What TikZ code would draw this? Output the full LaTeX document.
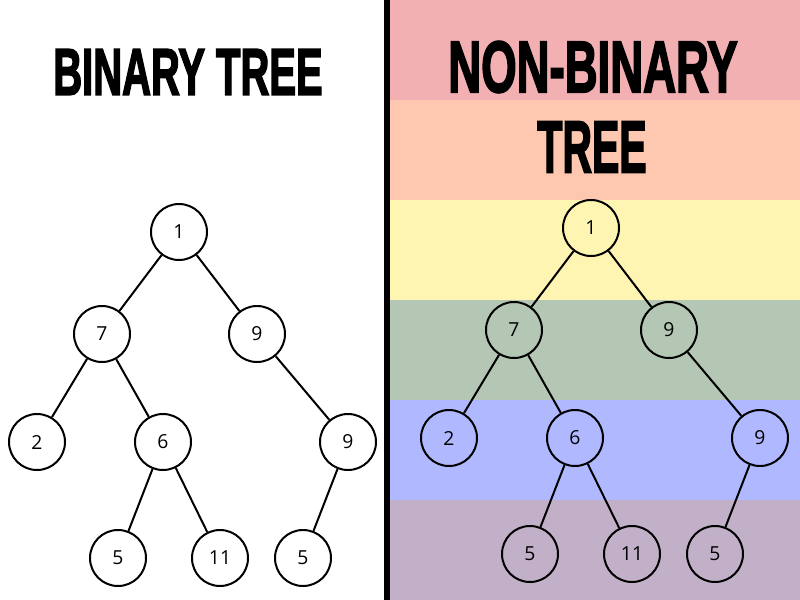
\documentclass[tikz,border=0pt]{standalone}
\usepackage{fontspec}
\usepackage{graphicx}
\newfontfamily\treefont{Open Sans}
\newfontfamily\titlefont[FakeBold=3]{Liberation Sans Bold}
\definecolor{bandA}{RGB}{242,176,179}
\definecolor{bandB}{RGB}{253,200,175}
\definecolor{bandC}{RGB}{255,245,178}
\definecolor{bandD}{RGB}{180,198,180}
\definecolor{bandE}{RGB}{176,184,255}
\definecolor{bandF}{RGB}{194,176,200}
\usetikzlibrary{positioning}

\begin{document}
\begin{tikzpicture}[x=0.75pt, y=-0.75pt]
	\tikzset{treenode/.style={circle, draw=black, line width=1.5pt, minimum size=42pt, inner sep=0pt, font=\treefont\fontsize{14.5}{17}\selectfont}}
	\tikzset{treeedge/.style={draw=black, line width=1.5pt}}
	\tikzset{title/.style={inner sep=0pt, font=\titlefont}}
		\useasboundingbox (0,0) rectangle (800,600);
		\fill[white] (0,0) rectangle (800,600);
		% stripes
		\foreach \col/\y in {bandA/0, bandB/100, bandC/200, bandD/300, bandE/400, bandF/500} {\fill[\col] (390,\y) rectangle (800,\y+100);}
		\fill[black] (384,0) rectangle (390,600);
		% titles
		\node[title] (titleL) at (188,72) {\resizebox{202pt}{34pt}{BINARY TREE}};
		\node[title] (titleR) at (593,67) {\resizebox{217pt}{38pt}{NON-BINARY}};
		\node[title] (titleRb) at (592,147) {\resizebox{82pt}{38pt}{TREE}};
		% trees
		\foreach \side/\dx/\dy/\fillcol in {L/0/0/white, R/412/-4/none}
		{
		\begin{scope}[shift={(\dx,\dy)}]
		\foreach \name/\x/\y/\tag in {a/179/232/1, b/102/334/7, c/257/334/9, d/37/442/2, e/163/442/6, f/348/442/9, g/118/558/5, h/220/558/11, i/303/558/5}
		{\node[treenode, fill=\fillcol] (\side\name) at (\x,\y) {\tag};}
		\end{scope}
		\foreach \u/\v in {a/b, a/c, b/d, b/e, c/f, e/g, e/h, f/i} {\draw[treeedge] (\side\u) -- (\side\v);}
		}
\end{tikzpicture}
\end{document}
